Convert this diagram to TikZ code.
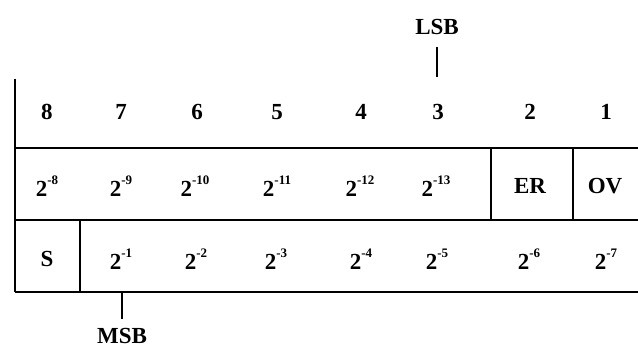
\documentclass[tikz,border=0pt]{standalone}
\usepackage{fontspec}
\setmainfont{Liberation Serif}
\newcommand{\pw}[1]{2\raisebox{0.5em}{\fontsize{13}{13}\selectfont -#1}}
\begin{document}
\begin{tikzpicture}[x=1pt,y=-1pt,
  lbl/.style={font=\fontsize{23}{24}\selectfont\bfseries, inner sep=0pt},
  hline/.style={line width=2.2pt},
  vline/.style={line width=1.8pt}]
\useasboundingbox (0,0) rectangle (638,350);
% frame
\coordinate (tl) at (15,79);
\coordinate (t0) at (15,148);
\coordinate (t1) at (638,148);
\coordinate (m0) at (15,220);
\coordinate (m1) at (638,220);
\coordinate (b0) at (15,292);
\coordinate (b1) at (638,292);
\draw[vline] (tl) -- (b0);
\draw[hline] (t0) -- (t1);
\draw[hline] (m0) -- (m1);
\draw[hline] (b0) -- (b1);
% dividers
\coordinate (d1t) at (491,148); \coordinate (d1b) at (491,220);
\coordinate (d2t) at (573,148); \coordinate (d2b) at (573,220);
\coordinate (d3t) at (80,220); \coordinate (d3b) at (80,292);
\draw[vline] (d1t) -- (d1b);
\draw[vline] (d2t) -- (d2b);
\draw[vline] (d3t) -- (d3b);
% bit numbers
\node[lbl] (n8) at (47,112) {8};
\node[lbl] (n7) at (121,112) {7};
\node[lbl] (n6) at (197,112) {6};
\node[lbl] (n5) at (277,112) {5};
\node[lbl] (n4) at (361,112) {4};
\node[lbl] (n3) at (438,112) {3};
\node[lbl] (n2) at (530,112) {2};
\node[lbl] (n1) at (606,112) {1};
% LSB
\node[lbl] (lsb) at (437,27) {LSB};
\coordinate (lsbt) at (437,47); \coordinate (lsbb) at (437,77);
\draw[vline] (lsbt) -- (lsbb);
% MSB
\node[lbl] (msb) at (122,336) {MSB};
\coordinate (msbt) at (122,292); \coordinate (msbb) at (122,319);
\draw[vline] (msbt) -- (msbb);
% row 1
\node[lbl] (r1a) at (47,186) {\pw{8}};
\node[lbl] (r1b) at (121,186) {\pw{9}};
\node[lbl] (r1c) at (195,186) {\pw{10}};
\node[lbl] (r1d) at (277,186) {\pw{11}};
\node[lbl] (r1e) at (360,186) {\pw{12}};
\node[lbl] (r1f) at (436,186) {\pw{13}};
\node[lbl] (er) at (530,186) {ER};
\node[lbl] (ov) at (605,186) {OV};
% row 2
\node[lbl] (s) at (47,259) {S};
\node[lbl] (r2a) at (121,259) {\pw{1}};
\node[lbl] (r2b) at (196,259) {\pw{2}};
\node[lbl] (r2c) at (276,259) {\pw{3}};
\node[lbl] (r2d) at (361,259) {\pw{4}};
\node[lbl] (r2e) at (437,259) {\pw{5}};
\node[lbl] (r2f) at (529,259) {\pw{6}};
\node[lbl] (r2g) at (606,259) {\pw{7}};
\end{tikzpicture}
\end{document}
